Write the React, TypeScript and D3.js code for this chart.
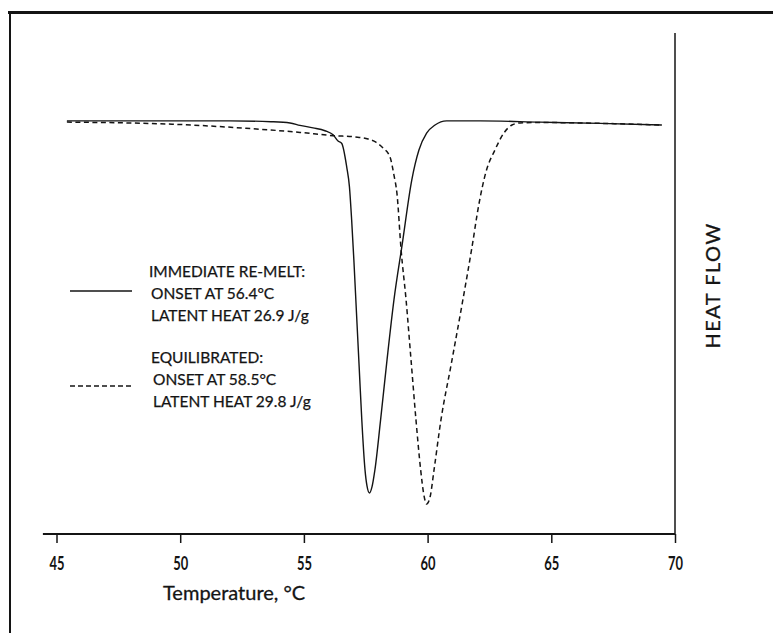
import React, { useEffect, useRef } from "react";
import * as d3 from "d3";

// DSC melting curves (heat flow in arbitrary units)
const solidTemp = [45.42, 48.78, 52.01, 53.67, 54.44, 54.84, 55.37, 55.85, 56.18, 56.38, 56.53, 56.73, 56.84, 56.93, 57.02, 57.12, 57.24, 57.34, 57.47, 57.55, 57.65, 57.75, 57.87, 58.1, 58.36, 58.64, 58.97, 59.36, 59.65, 59.96, 60.3, 60.77, 62.12, 64.54, 66.97, 69.47];
const solidFlow = [0.06, 0.06, 0.06, 0.04, 0.01, -0.05, -0.11, -0.18, -0.28, -0.43, -0.49, -1.06, -1.54, -2.35, -3.33, -4.55, -6.01, -7.22, -8.44, -8.83, -9.0, -8.86, -8.44, -7.22, -5.76, -4.3, -2.96, -1.38, -0.65, -0.24, -0.04, 0.06, 0.06, 0.03, 0.0, -0.04];

const dashTemp = [45.42, 49.67, 52.66, 54.84, 56.18, 57.07, 57.59, 57.91, 58.2, 58.48, 58.64, 58.76, 58.93, 59.13, 59.33, 59.53, 59.72, 59.85, 59.96, 60.1, 60.26, 60.54, 60.95, 61.39, 61.79, 62.07, 62.36, 62.72, 63.09, 63.41, 63.74, 64.54, 66.97, 69.47];
const dashFlow = [0.03, -0.02, -0.12, -0.22, -0.3, -0.33, -0.38, -0.46, -0.6, -0.82, -1.26, -1.7, -3.09, -4.3, -5.76, -7.22, -8.44, -9.05, -9.27, -9.1, -8.44, -7.22, -5.88, -4.42, -3.03, -1.98, -1.18, -0.65, -0.23, -0.04, 0.01, 0.02, 0.0, -0.04];

const tempTicks = [45, 50, 55, 60, 65, 70];
const tempDomain = [45, 70];
const axisExtent = [44.45, 70];
const flowDomain = [-10, 2.2];

const legendSolid = ["IMMEDIATE RE-MELT:", "ONSET AT 56.4°C", "LATENT HEAT 26.9 J/g"];
const legendDashed = ["EQUILIBRATED:", "ONSET AT 58.5°C", "LATENT HEAT 29.8 J/g"];

const ink = "#141414";
const font = "Lato, 'Open Sans', sans-serif";

export default function App() {
  const ref = useRef<SVGSVGElement>(null);

  useEffect(() => {
    const svg = d3.select(ref.current);
    svg.selectAll("*").remove();

    const x = d3.scaleLinear().domain(tempDomain).range([56.5, 675]);
    const y = d3.scaleLinear().domain(flowDomain).range([534, 33]);

    // scan frame (top and left edges only)
    svg.append("line")
      .attr("x1", 8).attr("x2", 773).attr("y1", 12.5).attr("y2", 12.5)
      .attr("stroke", ink).attr("stroke-width", 3);
    svg.append("line")
      .attr("x1", 10).attr("x2", 10).attr("y1", 11).attr("y2", 633)
      .attr("stroke", ink).attr("stroke-width", 2);

    // x axis
    const xAxis = d3.axisBottom(x).tickValues(tempTicks).tickSize(9).tickFormat(d3.format("d"));
    const gx = svg.append("g")
      .attr("transform", `translate(0, ${y.range()[0]})`)
      .call(xAxis);
    gx.select(".domain").remove();
    gx.selectAll(".tick line").attr("stroke", ink).attr("stroke-width", 1.5);
    gx.selectAll(".tick text")
      .attr("y", 36).attr("dy", 0)
      .attr("fill", ink)
      .attr("font-family", font)
      .attr("font-weight", "bold")
      .attr("font-size", 18)
      .attr("textLength", 15)
      .attr("lengthAdjust", "spacingAndGlyphs");

    svg.append("line")
      .attr("x1", x(axisExtent[0])).attr("x2", x(axisExtent[1]))
      .attr("y1", y.range()[0]).attr("y2", y.range()[0])
      .attr("stroke", ink).attr("stroke-width", 2);

    // right-hand heat flow axis
    svg.append("line")
      .attr("x1", x(axisExtent[1])).attr("x2", x(axisExtent[1]))
      .attr("y1", y.range()[0]).attr("y2", y.range()[1])
      .attr("stroke", ink).attr("stroke-width", 1.5);

    svg.append("text")
      .attr("x", 163).attr("y", 600)
      .attr("font-family", font).attr("font-size", 20).attr("fill", ink)
      .attr("stroke", ink).attr("stroke-width", 0.3)
      .text("Temperature,  °C");

    svg.append("text")
      .attr("transform", `translate(719.5, ${(y.range()[0] + y.range()[1]) / 2 + 2}) rotate(-90)`)
      .attr("text-anchor", "middle")
      .attr("font-family", font).attr("font-size", 20).attr("letter-spacing", 1.5).attr("fill", ink)
      .attr("stroke", ink).attr("stroke-width", 0.3)
      .text("HEAT FLOW");

    // curves
    const curve = d3.line<[number, number]>()
      .x(d => x(d[0])).y(d => y(d[1]))
      .curve(d3.curveMonotoneX);

    svg.append("path")
      .datum(d3.zip(solidTemp, solidFlow) as [number, number][])
      .attr("d", curve)
      .attr("fill", "none").attr("stroke", ink).attr("stroke-width", 1.4);

    svg.append("path")
      .datum(d3.zip(dashTemp, dashFlow) as [number, number][])
      .attr("d", curve)
      .attr("fill", "none").attr("stroke", ink).attr("stroke-width", 1.5)
      .attr("stroke-dasharray", "5,3.5");

    // legend
    const legend = [
      { lines: legendSolid, dash: null, x: 151, y: 277, key: 291 },
      { lines: legendDashed, dash: "5,3", x: 153, y: 363, key: 386 },
    ];
    legend.forEach(item => {
      svg.append("line")
        .attr("x1", 70).attr("x2", 132).attr("y1", item.key).attr("y2", item.key)
        .attr("stroke", ink).attr("stroke-width", 1.3)
        .attr("stroke-dasharray", item.dash);
      svg.append("g").selectAll("text")
        .data(item.lines)
        .join("text")
        .attr("x", (d, i) => (i === 0 ? item.x - 2 : item.x))
        .attr("y", (d, i) => item.y + i * 22)
        .attr("font-family", font).attr("font-size", 15.5).attr("fill", ink)
        .attr("stroke", ink).attr("stroke-width", 0.25)
        .text(d => d);
    });
  }, []);

  return (
    <svg
      ref={ref}
      width={773}
      height={633}
      style={{ position: "absolute", left: 0, top: 0, background: "#fff" }}
    />
  );
}
